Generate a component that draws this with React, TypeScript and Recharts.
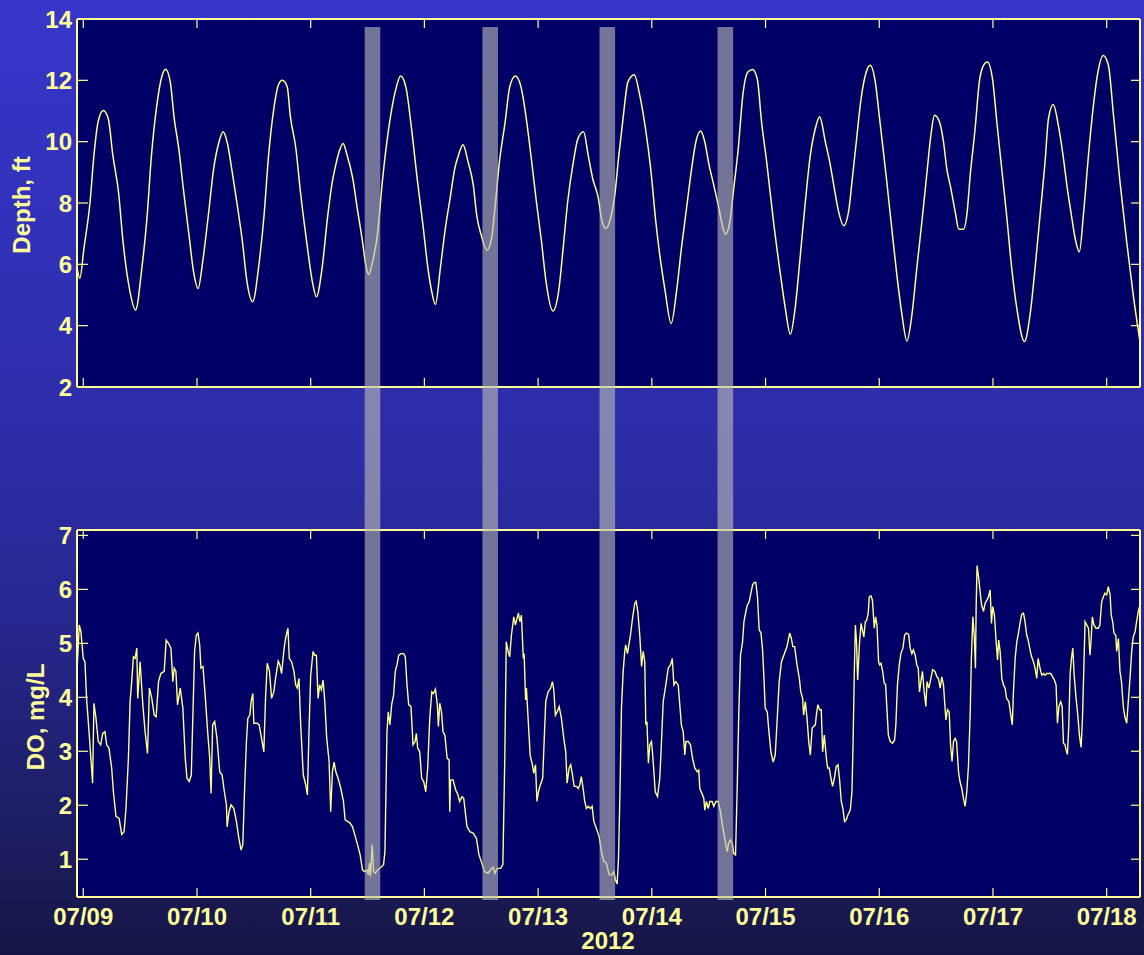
import React from "react";
import { LineChart, Line, XAxis, YAxis, CartesianGrid, ReferenceArea, Label } from "recharts";

const W = 1144;
const H = 955;
const FONT = "'Liberation Sans', Arial, Helvetica, sans-serif";
const YELLOW = "#ffff99";
const TRACE = "#ffff88";
const NAVY = "#000066";

// time axis: days since 07/09 00:00
const dayDomain: [number, number] = [-0.055, 9.293];
const dayTicks = [0, 1, 2, 3, 4, 5, 6, 7, 8, 9];
const dayLabels = ["07/09", "07/10", "07/11", "07/12", "07/13", "07/14", "07/15", "07/16", "07/17", "07/18"];
const yearLabel = "2012";

const depthDomain: [number, number] = [2, 14];
const depthTicks = [2, 4, 6, 8, 10, 12, 14];
const doDomain: [number, number] = [0.3, 7.1];
const doTicks = [1, 2, 3, 4, 5, 6, 7];

// low-DO windows (start, end) in days
const lowOxygenWindows: [number, number][] = [
  [2.475, 2.612],
  [3.51, 3.647],
  [4.54, 4.677],
  [5.578, 5.715],
];

// water depth, ft  [day, depth]
const depthSeries: [number, number][] = [
  [-0.055, 5.9], [-0.03, 5.54], [0.006, 6.52], [0.06, 8.04], [0.094, 9.56], [0.13, 10.64],
  [0.176, 11.02], [0.22, 10.75], [0.26, 9.56], [0.31, 8.36], [0.35, 6.73], [0.406, 5.21],
  [0.46, 4.51], [0.515, 5.87], [0.56, 7.49], [0.6, 9.56], [0.647, 11.19], [0.69, 12.11],
  [0.724, 12.36], [0.765, 11.95], [0.8, 10.75], [0.84, 9.77], [0.88, 8.47], [0.93, 6.95],
  [0.97, 5.76], [1.01, 5.21], [1.05, 6.08], [1.1, 7.6], [1.147, 9.12], [1.19, 9.94],
  [1.23, 10.32], [1.265, 9.99], [1.31, 9.01], [1.35, 8.04], [1.4, 6.73], [1.44, 5.43],
  [1.49, 4.78], [1.544, 5.97], [1.59, 7.6], [1.63, 9.56], [1.676, 11.08], [1.715, 11.84],
  [1.75, 12.0], [1.794, 11.78], [1.82, 10.86], [1.87, 9.77], [1.91, 8.36], [1.965, 6.73],
  [2.015, 5.43], [2.05, 4.94], [2.1, 5.87], [2.147, 7.49], [2.19, 8.69], [2.22, 9.23],
  [2.25, 9.67], [2.285, 9.94], [2.32, 9.56], [2.37, 8.8], [2.41, 7.82], [2.456, 6.73],
  [2.485, 5.97], [2.51, 5.67], [2.544, 6.08], [2.59, 7.06], [2.63, 8.69], [2.69, 10.53],
  [2.75, 11.73], [2.79, 12.14], [2.84, 11.73], [2.88, 10.64], [2.94, 8.69], [2.99, 7.2],
  [3.03, 5.9], [3.06, 5.2], [3.097, 4.69], [3.14, 5.87], [3.18, 7.06], [3.23, 8.25],
  [3.267, 9.12], [3.3, 9.56], [3.34, 9.9], [3.384, 9.34], [3.43, 8.58], [3.46, 7.6],
  [3.5, 6.95], [3.55, 6.46], [3.59, 6.84], [3.62, 7.82], [3.66, 9.34], [3.71, 10.64],
  [3.75, 11.78], [3.8, 12.14], [3.85, 11.78], [3.9, 10.64], [3.94, 9.45], [3.985, 8.04],
  [4.03, 6.73], [4.07, 5.43], [4.13, 4.48], [4.18, 5.11], [4.22, 6.52], [4.26, 8.04],
  [4.31, 9.34], [4.35, 10.1], [4.4, 10.32], [4.44, 9.56], [4.48, 8.8], [4.53, 8.15],
  [4.557, 7.49], [4.595, 7.17], [4.636, 7.49], [4.674, 8.25], [4.71, 9.56], [4.75, 10.86],
  [4.79, 11.95], [4.845, 12.18], [4.894, 11.51], [4.944, 10.43], [4.99, 9.12], [5.035, 7.39],
  [5.07, 6.3], [5.114, 5.21], [5.17, 4.07], [5.217, 5.11], [5.26, 6.52], [5.305, 7.82],
  [5.35, 9.12], [5.387, 9.99], [5.43, 10.35], [5.466, 9.99], [5.504, 9.23], [5.545, 8.58],
  [5.584, 7.93], [5.613, 7.39], [5.648, 6.98], [5.686, 7.39], [5.72, 8.47], [5.76, 9.77],
  [5.8, 11.51], [5.845, 12.27], [5.886, 12.35], [5.927, 12.05], [5.965, 10.64], [6.01, 9.34],
  [6.07, 7.39], [6.13, 5.7], [6.174, 4.56], [6.218, 3.72], [6.26, 4.56], [6.306, 6.3],
  [6.35, 8.04], [6.394, 9.56], [6.438, 10.43], [6.476, 10.81], [6.526, 9.99], [6.57, 9.23],
  [6.605, 8.47], [6.643, 7.71], [6.687, 7.26], [6.73, 7.71], [6.76, 8.69], [6.798, 9.99],
  [6.84, 11.4], [6.886, 12.27], [6.92, 12.49], [6.965, 11.95], [7.003, 10.75], [7.06, 8.91],
  [7.11, 7.17], [7.155, 5.65], [7.2, 4.35], [7.243, 3.5], [7.287, 4.35], [7.33, 5.87],
  [7.375, 7.39], [7.42, 9.01], [7.454, 10.21], [7.486, 10.86], [7.53, 10.64], [7.565, 9.99],
  [7.594, 9.12], [7.63, 8.47], [7.668, 7.71], [7.7, 7.14], [7.74, 7.14], [7.77, 7.6],
  [7.8, 8.91], [7.843, 10.43], [7.88, 11.95], [7.917, 12.49], [7.95, 12.6], [7.996, 12.05],
  [8.034, 10.64], [8.077, 9.12], [8.12, 7.6], [8.165, 5.87], [8.21, 4.56], [8.277, 3.48],
  [8.326, 4.35], [8.37, 5.87], [8.414, 7.6], [8.458, 9.34], [8.488, 10.75], [8.53, 11.21],
  [8.575, 10.53], [8.62, 9.45], [8.654, 8.47], [8.69, 7.6], [8.72, 6.9], [8.76, 6.41],
  [8.795, 7.6], [8.84, 9.56], [8.877, 10.97], [8.918, 12.16], [8.97, 12.81], [9.015, 12.49],
  [9.06, 10.86], [9.117, 8.69], [9.176, 6.73], [9.234, 4.99], [9.29, 3.55],
];

// dissolved oxygen, mg/L  [day, DO]
const doSeries: [number, number][] = [
  [-0.055, 4.48], [-0.035, 5.34], [-0.021, 5.22], [0.0, 4.72], [0.015, 4.66], [0.029, 3.98],
  [0.053, 3.3], [0.082, 2.41], [0.094, 3.89], [0.112, 3.61], [0.132, 3.18], [0.153, 3.12],
  [0.171, 3.33], [0.191, 3.36], [0.206, 3.12], [0.226, 3.06], [0.25, 2.69], [0.265, 2.25],
  [0.288, 1.79], [0.315, 1.76], [0.338, 1.46], [0.359, 1.51], [0.376, 1.95], [0.397, 2.87],
  [0.412, 3.92], [0.426, 4.29], [0.441, 4.75], [0.456, 4.72], [0.471, 4.91], [0.479, 3.98],
  [0.5, 4.66], [0.524, 3.86], [0.544, 3.36], [0.565, 2.96], [0.582, 4.17], [0.603, 3.98],
  [0.624, 3.67], [0.641, 3.64], [0.662, 4.29], [0.682, 4.44], [0.712, 4.48], [0.729, 5.06],
  [0.75, 5.0], [0.771, 4.91], [0.788, 4.29], [0.8, 4.54], [0.815, 4.48], [0.829, 3.86],
  [0.853, 4.17], [0.876, 3.8], [0.897, 2.87], [0.912, 2.5], [0.932, 2.44], [0.95, 2.56],
  [0.965, 3.73], [0.979, 4.85], [0.994, 5.15], [1.009, 5.19], [1.024, 4.97], [1.035, 4.54],
  [1.053, 4.57], [1.074, 3.98], [1.094, 3.36], [1.112, 2.87], [1.124, 2.22], [1.138, 3.49],
  [1.156, 3.55], [1.176, 3.24], [1.2, 2.62], [1.221, 2.56], [1.241, 2.25], [1.259, 2.01],
  [1.265, 1.6], [1.282, 1.88], [1.3, 2.01], [1.324, 1.94], [1.347, 1.7], [1.368, 1.39],
  [1.388, 1.17], [1.403, 1.27], [1.418, 2.25], [1.435, 3.18], [1.447, 3.61], [1.465, 3.67],
  [1.476, 3.92], [1.491, 4.07], [1.5, 3.52], [1.529, 3.52], [1.547, 3.49], [1.565, 3.27],
  [1.588, 2.99], [1.603, 3.98], [1.618, 4.63], [1.638, 4.48], [1.656, 3.98], [1.676, 4.1],
  [1.691, 4.35], [1.715, 4.67], [1.729, 4.6], [1.744, 4.44], [1.765, 4.88], [1.779, 5.09],
  [1.8, 5.28], [1.812, 4.72], [1.832, 4.66], [1.853, 4.48], [1.868, 4.23], [1.882, 4.17],
  [1.897, 4.35], [1.912, 3.49], [1.935, 2.56], [1.956, 2.38], [1.971, 2.19], [1.985, 3.36],
  [2.0, 4.41], [2.021, 4.85], [2.035, 4.78], [2.05, 4.78], [2.065, 3.98], [2.079, 4.23],
  [2.094, 4.14], [2.109, 4.32], [2.124, 3.92], [2.141, 3.24], [2.162, 2.81], [2.176, 1.88],
  [2.191, 2.62], [2.206, 2.8], [2.221, 2.62], [2.241, 2.5], [2.265, 2.31], [2.288, 2.07],
  [2.303, 1.73], [2.324, 1.7], [2.347, 1.67], [2.368, 1.6], [2.388, 1.45], [2.412, 1.27],
  [2.435, 1.08], [2.456, 0.8], [2.476, 0.77], [2.494, 0.8], [2.506, 0.71], [2.518, 0.93],
  [2.526, 0.68], [2.541, 1.27], [2.553, 0.77], [2.568, 0.74], [2.588, 0.8], [2.618, 0.85],
  [2.641, 0.9], [2.653, 1.14], [2.662, 2.25], [2.671, 3.36], [2.682, 3.73], [2.697, 3.49],
  [2.712, 3.86], [2.729, 4.04], [2.744, 4.48], [2.759, 4.6], [2.774, 4.78], [2.794, 4.81],
  [2.818, 4.81], [2.832, 4.75], [2.847, 4.23], [2.862, 3.86], [2.882, 3.83], [2.9, 3.12],
  [2.918, 3.18], [2.929, 3.33], [2.941, 3.06], [2.959, 2.99], [2.976, 2.5], [2.994, 2.44],
  [3.012, 2.25], [3.029, 2.69], [3.047, 3.61], [3.065, 4.1], [3.079, 4.07], [3.097, 4.15],
  [3.114, 3.86], [3.123, 3.46], [3.135, 3.89], [3.15, 3.73], [3.164, 3.36], [3.18, 3.3],
  [3.2, 2.87], [3.217, 2.84], [3.223, 1.88], [3.23, 2.47], [3.252, 2.47], [3.276, 2.28],
  [3.296, 2.19], [3.31, 2.07], [3.33, 2.16], [3.346, 2.13], [3.364, 1.79], [3.375, 1.6],
  [3.4, 1.51], [3.43, 1.48], [3.457, 1.39], [3.48, 1.08], [3.5, 0.96], [3.53, 0.77],
  [3.56, 0.74], [3.58, 0.8], [3.604, 0.85], [3.62, 0.74], [3.64, 0.83], [3.67, 0.83],
  [3.69, 0.9], [3.707, 2.87], [3.72, 5.03], [3.736, 4.85], [3.75, 4.75], [3.765, 5.15],
  [3.786, 5.49], [3.8, 5.34], [3.815, 5.46], [3.827, 5.56], [3.84, 5.4], [3.853, 5.52],
  [3.87, 4.72], [3.877, 4.81], [3.89, 3.95], [3.897, 4.17], [3.912, 3.61], [3.93, 2.93],
  [3.95, 2.75], [3.962, 2.59], [3.977, 2.75], [3.99, 2.07], [4.003, 2.25], [4.02, 2.38],
  [4.04, 2.5], [4.053, 3.18], [4.067, 3.92], [4.088, 4.1], [4.11, 4.17], [4.126, 4.29],
  [4.138, 4.14], [4.152, 3.67], [4.167, 3.73], [4.185, 3.83], [4.205, 3.61], [4.226, 3.24],
  [4.243, 2.99], [4.255, 2.41], [4.273, 2.69], [4.287, 2.75], [4.3, 2.59], [4.317, 2.35],
  [4.337, 2.35], [4.352, 2.31], [4.367, 2.38], [4.38, 2.53], [4.396, 2.31], [4.41, 2.07],
  [4.425, 1.94], [4.44, 1.98], [4.46, 1.94], [4.475, 1.98], [4.49, 1.7], [4.513, 1.57],
  [4.537, 1.42], [4.557, 1.14], [4.578, 0.96], [4.6, 0.93], [4.625, 0.71], [4.648, 0.71],
  [4.666, 0.77], [4.68, 0.62], [4.695, 0.54], [4.707, 1.02], [4.72, 2.25], [4.733, 3.8],
  [4.748, 4.48], [4.762, 4.85], [4.77, 4.97], [4.786, 4.81], [4.798, 4.97], [4.812, 5.15],
  [4.83, 5.46], [4.85, 5.74], [4.862, 5.78], [4.877, 5.59], [4.894, 5.15], [4.91, 4.57],
  [4.924, 4.85], [4.938, 4.66], [4.947, 3.49], [4.957, 3.55], [4.97, 2.78], [4.982, 3.12],
  [4.997, 3.18], [5.01, 2.87], [5.03, 2.25], [5.05, 2.16], [5.07, 2.5], [5.085, 3.18],
  [5.1, 3.92], [5.123, 4.23], [5.144, 4.54], [5.164, 4.6], [5.18, 4.72], [5.194, 4.23],
  [5.21, 4.29], [5.232, 4.23], [5.246, 3.86], [5.26, 3.49], [5.276, 3.36], [5.29, 2.93],
  [5.3, 3.18], [5.32, 3.18], [5.34, 3.12], [5.358, 2.87], [5.378, 2.69], [5.4, 2.62],
  [5.413, 2.65], [5.422, 2.31], [5.44, 2.22], [5.457, 2.13], [5.466, 1.91], [5.48, 2.07],
  [5.496, 1.94], [5.51, 2.07], [5.53, 2.07], [5.545, 1.98], [5.563, 2.07], [5.584, 2.07],
  [5.604, 1.88], [5.62, 1.64], [5.636, 1.45], [5.65, 1.27], [5.663, 1.14], [5.675, 1.3],
  [5.692, 1.36], [5.71, 1.27], [5.72, 1.11], [5.736, 1.08], [5.75, 2.25], [5.765, 3.73],
  [5.78, 4.78], [5.798, 5.03], [5.81, 5.4], [5.827, 5.59], [5.84, 5.71], [5.856, 5.77],
  [5.868, 5.9], [5.886, 6.08], [5.9, 6.13], [5.915, 6.13], [5.93, 5.83], [5.944, 5.25],
  [5.96, 5.19], [5.973, 4.91], [5.985, 4.41], [5.997, 3.8], [6.015, 3.73], [6.03, 3.36],
  [6.047, 2.99], [6.067, 2.8], [6.085, 2.93], [6.1, 3.49], [6.12, 4.29], [6.14, 4.66],
  [6.189, 4.94], [6.212, 5.19], [6.227, 5.09], [6.24, 4.94], [6.256, 4.94], [6.277, 4.6],
  [6.297, 4.35], [6.31, 4.1], [6.326, 3.98], [6.335, 3.67], [6.35, 3.92], [6.365, 3.61],
  [6.38, 3.18], [6.394, 2.93], [6.41, 3.43], [6.423, 3.46], [6.438, 3.49], [6.447, 3.67],
  [6.46, 3.86], [6.476, 3.77], [6.49, 3.77], [6.502, 2.99], [6.517, 3.3], [6.535, 2.87],
  [6.546, 2.69], [6.56, 2.69], [6.575, 2.5], [6.59, 2.35], [6.605, 2.5], [6.622, 2.72],
  [6.637, 2.75], [6.65, 2.5], [6.666, 2.07], [6.68, 1.94], [6.695, 1.7], [6.71, 1.73],
  [6.724, 1.82], [6.745, 1.91], [6.76, 2.25], [6.77, 3.18], [6.78, 4.41], [6.79, 5.34],
  [6.8, 5.03], [6.81, 4.32], [6.827, 5.03], [6.84, 5.37], [6.854, 5.22], [6.865, 5.12],
  [6.877, 5.4], [6.89, 5.43], [6.903, 5.56], [6.912, 5.86], [6.927, 5.88], [6.94, 5.8],
  [6.956, 5.28], [6.968, 5.49], [6.98, 5.34], [6.994, 4.66], [7.003, 4.6], [7.015, 4.63],
  [7.03, 4.48], [7.044, 4.26], [7.056, 4.24], [7.067, 3.8], [7.08, 3.3], [7.097, 3.18],
  [7.117, 3.15], [7.135, 3.21], [7.146, 3.49], [7.16, 4.23], [7.176, 4.6], [7.19, 4.81],
  [7.208, 4.91], [7.223, 5.15], [7.237, 5.19], [7.258, 5.17], [7.272, 4.91], [7.287, 4.81],
  [7.3, 4.88], [7.316, 4.78], [7.33, 4.6], [7.343, 4.54], [7.354, 4.1], [7.37, 4.35],
  [7.38, 4.48], [7.395, 4.1], [7.41, 3.83], [7.42, 4.29], [7.436, 4.17], [7.454, 4.35],
  [7.47, 4.51], [7.49, 4.48], [7.507, 4.38], [7.52, 4.35], [7.536, 4.17], [7.55, 4.38],
  [7.565, 4.23], [7.577, 3.86], [7.586, 3.58], [7.6, 3.77], [7.615, 3.73], [7.627, 3.12],
  [7.64, 2.81], [7.653, 3.18], [7.668, 3.24], [7.68, 3.18], [7.697, 2.62], [7.71, 2.44],
  [7.726, 2.31], [7.74, 2.13], [7.755, 1.98], [7.77, 2.25], [7.785, 2.75], [7.8, 3.73],
  [7.81, 4.72], [7.823, 5.49], [7.835, 5.15], [7.846, 4.54], [7.852, 5.65], [7.86, 6.44],
  [7.875, 6.2], [7.887, 5.96], [7.9, 5.71], [7.917, 5.59], [7.93, 5.74], [7.946, 5.8],
  [7.96, 5.86], [7.975, 5.99], [7.987, 5.37], [7.998, 5.68], [8.013, 5.52], [8.028, 5.03],
  [8.04, 4.69], [8.05, 5.06], [8.063, 4.85], [8.078, 4.35], [8.092, 4.23], [8.107, 4.17],
  [8.12, 3.98], [8.14, 3.92], [8.15, 3.77], [8.17, 3.49], [8.18, 4.1], [8.195, 4.72],
  [8.21, 5.03], [8.224, 5.19], [8.24, 5.4], [8.253, 5.54], [8.268, 5.56], [8.28, 5.43],
  [8.297, 5.15], [8.31, 5.06], [8.326, 4.88], [8.34, 4.75], [8.356, 4.66], [8.37, 4.54],
  [8.385, 4.35], [8.397, 4.72], [8.408, 4.6], [8.42, 4.48], [8.43, 4.41], [8.444, 4.44],
  [8.458, 4.41], [8.473, 4.44], [8.49, 4.44], [8.508, 4.44], [8.525, 4.38], [8.54, 4.32],
  [8.555, 4.23], [8.567, 3.52], [8.58, 3.83], [8.596, 3.92], [8.608, 3.83], [8.62, 3.15],
  [8.634, 3.12], [8.643, 3.02], [8.655, 2.94], [8.667, 3.49], [8.678, 4.41], [8.69, 4.72],
  [8.702, 4.91], [8.714, 4.41], [8.731, 3.98], [8.746, 3.67], [8.76, 3.3], [8.775, 3.07],
  [8.787, 3.61], [8.8, 4.6], [8.81, 5.4], [8.825, 5.34], [8.84, 5.28], [8.853, 4.78],
  [8.862, 5.03], [8.874, 5.49], [8.888, 5.34], [8.906, 5.28], [8.926, 5.28], [8.94, 5.34],
  [8.956, 5.77], [8.97, 5.86], [8.985, 5.93], [9.0, 5.9], [9.014, 6.05], [9.03, 5.9],
  [9.04, 5.52], [9.053, 5.4], [9.064, 5.19], [9.08, 5.15], [9.088, 4.85], [9.103, 5.09],
  [9.117, 4.48], [9.13, 4.29], [9.146, 3.83], [9.16, 3.64], [9.176, 3.52], [9.19, 3.92],
  [9.205, 4.35], [9.22, 4.85], [9.234, 5.12], [9.25, 5.22], [9.263, 5.4], [9.278, 5.59],
  [9.293, 5.71],
];

const depthData = depthSeries.map(([t, v]) => ({ t, v }));
const doData = doSeries.map(([t, v]) => ({ t, v }));

const textStyle = {
  fontFamily: FONT,
  fontWeight: 700,
  fontSize: 24,
  fill: YELLOW,
};

type Side = "left" | "right" | "top" | "bottom";

// inward tick marks (MATLAB style); labels drawn outside the box when a formatter is given
const makeTick =
  (side: Side, len: number, fmt?: (v: number) => string) =>
  (props: any) => {
    const { x, y, payload } = props;
    const v = payload.value as number;
    let x2 = x;
    let y2 = y;
    if (side === "left") x2 = x + len;
    if (side === "right") x2 = x - len;
    if (side === "top") y2 = y + len;
    if (side === "bottom") y2 = y - len;
    let label = null;
    if (fmt && side === "left") {
      label = (
        <text x={x - 5} y={y} dy="0.36em" textAnchor="end" style={textStyle}>
          {fmt(v)}
        </text>
      );
    }
    if (fmt && side === "bottom") {
      label = (
        <text x={x} y={y + 28} textAnchor="middle" style={textStyle}>
          {fmt(v)}
        </text>
      );
    }
    return (
      <g>
        <line x1={x} y1={y} x2={x2} y2={y2} stroke={YELLOW} strokeWidth={1.2} />
        {label}
      </g>
    );
  };

const frame = { stroke: YELLOW, strokeWidth: 2 };
const dayFmt = (v: number) => dayLabels[dayTicks.indexOf(v)] ?? "";
const numFmt = (v: number) => String(v);

function AxisTitle({ x, y, text }: { x: number; y: number; text: string }) {
  return (
    <text x={x} y={y} transform={`rotate(-90 ${x} ${y})`} textAnchor="middle" style={textStyle}>
      {text}
    </text>
  );
}

function DepthPanel() {
  return (
    <LineChart width={W} height={400} data={depthData} margin={{ top: 17, right: 0, bottom: 0, left: 0 }}>
      <CartesianGrid fill={NAVY} stroke="none" horizontal={false} vertical={false} />
      <XAxis
        dataKey="t"
        type="number"
        domain={dayDomain}
        ticks={dayTicks}
        interval={0}
        allowDataOverflow
        height={13}
        tickSize={0}
        tickMargin={0}
        tickLine={false}
        axisLine={frame}
        tick={makeTick("bottom", 9)}
      />
      <XAxis
        xAxisId="top"
        orientation="top"
        dataKey="t"
        type="number"
        domain={dayDomain}
        ticks={dayTicks}
        interval={0}
        allowDataOverflow
        height={2}
        tickSize={0}
        tickMargin={0}
        tickLine={false}
        axisLine={frame}
        tick={makeTick("top", 9)}
      />
      <YAxis
        type="number"
        domain={depthDomain}
        ticks={depthTicks}
        interval={0}
        allowDataOverflow
        width={77}
        tickSize={0}
        tickMargin={0}
        tickLine={false}
        axisLine={frame}
        tick={makeTick("left", 11, numFmt)}
      >
        <Label content={() => <AxisTitle x={30} y={205} text="Depth, ft" />} />
      </YAxis>
      <YAxis
        yAxisId="right"
        orientation="right"
        type="number"
        domain={depthDomain}
        ticks={depthTicks}
        interval={0}
        allowDataOverflow
        width={4}
        tickSize={0}
        tickMargin={0}
        tickLine={false}
        axisLine={frame}
        tick={makeTick("right", 9)}
      />
      <Line
        type="monotone"
        dataKey="v"
        stroke={TRACE}
        strokeWidth={1.5}
        dot={false}
        isAnimationActive={false}
      />
    </LineChart>
  );
}

function OxygenPanel() {
  return (
    <LineChart width={W} height={455} data={doData} margin={{ top: 28, right: 0, bottom: 0, left: 0 }}>
      <CartesianGrid fill={NAVY} stroke="none" horizontal={false} vertical={false} />
      <XAxis
        dataKey="t"
        type="number"
        domain={dayDomain}
        ticks={dayTicks}
        interval={0}
        allowDataOverflow
        height={58}
        tickSize={0}
        tickMargin={0}
        tickLine={false}
        axisLine={frame}
        tick={makeTick("bottom", 9, dayFmt)}
      >
        <Label
          content={() => (
            <text x={608} y={449} textAnchor="middle" style={textStyle}>
              {yearLabel}
            </text>
          )}
        />
      </XAxis>
      <XAxis
        xAxisId="top"
        orientation="top"
        dataKey="t"
        type="number"
        domain={dayDomain}
        ticks={dayTicks}
        interval={0}
        allowDataOverflow
        height={2}
        tickSize={0}
        tickMargin={0}
        tickLine={false}
        axisLine={frame}
        tick={makeTick("top", 9)}
      />
      <YAxis
        type="number"
        domain={doDomain}
        ticks={doTicks}
        interval={0}
        allowDataOverflow
        width={77}
        tickSize={0}
        tickMargin={0}
        tickLine={false}
        axisLine={frame}
        tick={makeTick("left", 11, numFmt)}
      >
        <Label content={() => <AxisTitle x={44} y={217} text="DO, mg/L" />} />
      </YAxis>
      <YAxis
        yAxisId="right"
        orientation="right"
        type="number"
        domain={doDomain}
        ticks={doTicks}
        interval={0}
        allowDataOverflow
        width={4}
        tickSize={0}
        tickMargin={0}
        tickLine={false}
        axisLine={frame}
        tick={makeTick("right", 9)}
      />
      <Line
        type="linear"
        dataKey="v"
        stroke={TRACE}
        strokeWidth={1.4}
        dot={false}
        isAnimationActive={false}
      />
    </LineChart>
  );
}

// translucent bands spanning both panels
function WindowBands() {
  return (
    <LineChart width={W} height={H} data={depthData} margin={{ top: 27, right: 4, bottom: 55, left: 77 }}>
      <XAxis dataKey="t" type="number" domain={dayDomain} allowDataOverflow hide />
      <YAxis type="number" domain={[0, 1]} allowDataOverflow hide />
      {lowOxygenWindows.map(([a, b]) => (
        <ReferenceArea
          key={a}
          x1={a}
          x2={b}
          y1={0}
          y2={1}
          fill="#bbbbb6"
          fillOpacity={0.62}
          stroke="none"
          ifOverflow="visible"
        />
      ))}
    </LineChart>
  );
}

export default function App() {
  return (
    <div
      style={{
        position: "absolute",
        left: 0,
        top: 0,
        width: W,
        height: H,
        overflow: "hidden",
        background:
          "linear-gradient(to bottom, #3636ca 0%, #3131b9 25%, #2c2ca6 48%, #27278f 65%, #1f1f6c 82%, #161646 100%)",
      }}
    >
      <div style={{ position: "absolute", left: 0, top: 0 }}>
        <DepthPanel />
      </div>
      <div style={{ position: "absolute", left: 0, top: 500 }}>
        <OxygenPanel />
      </div>
      <div style={{ position: "absolute", left: 0, top: 0, pointerEvents: "none" }}>
        <WindowBands />
      </div>
    </div>
  );
}
